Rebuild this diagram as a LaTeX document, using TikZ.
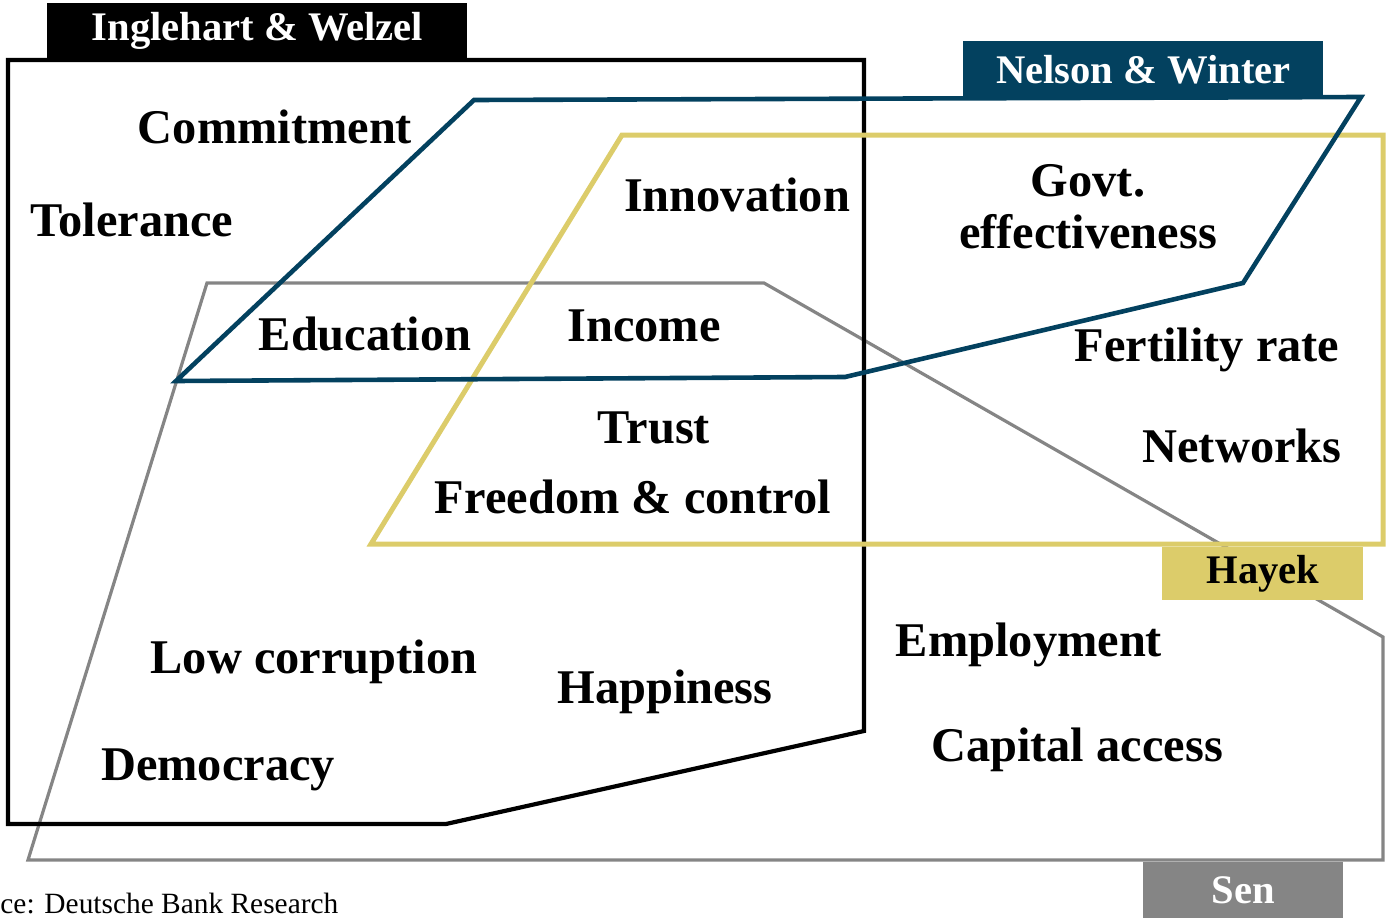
\documentclass[tikz,border=0pt]{standalone}
\usepackage{fontspec}
\setmainfont{Liberation Serif}
\definecolor{dbblue}{HTML}{03415F}
\definecolor{dbyellow}{HTML}{DCCC6A}
\definecolor{dbgray}{HTML}{858585}

\begin{document}
\begin{tikzpicture}[x=0.5pt,y=-0.5pt,
    lbl/.style={font=\fontsize{24.2}{26}\selectfont\bfseries, inner sep=0pt, anchor=base},
    tag/.style={font=\fontsize{20.3}{24}\selectfont\bfseries, inner sep=0pt, anchor=north west}]
\useasboundingbox (0,0) rectangle (1388,921);
    % the four sets
    \draw[dbgray, line width=1.6pt] (207,283) -- (764,283) -- (1383,637) -- (1383,860) -- (28,860) -- cycle;
    \draw[black, line width=2.1pt] (8,60) -- (864,60) -- (864,731) -- (446,824) -- (8,824) -- cycle;
    \draw[dbyellow, line width=2.5pt] (371,544) -- (622,135) -- (1383,135) -- (1383,544) -- cycle;
    \draw[dbblue, line width=2.3pt] (176,381) -- (474,100) -- (1361,97) -- (1243,283) -- (845,377) -- cycle;
    % tags
    \node[tag, fill=black, text=white, minimum width=210pt, minimum height=27.5pt] (iwtag) at (47,3) {Inglehart \& Welzel};
    \node[tag, fill=dbblue, text=white, minimum width=180pt, minimum height=28pt] (nwtag) at (963,41) {Nelson \& Winter};
    \node[tag, fill=dbyellow, text=black, minimum width=100.5pt, minimum height=26.5pt] (hytag) at (1162,547) {Hayek};
    \node[tag, fill=dbgray, text=white, minimum width=100pt, minimum height=28pt] (sentag) at (1143,862) {Sen};
    % labels
    \node[lbl] (commit) at (275,143) {Commitment};
    \node[lbl] (toler) at (132,236) {Tolerance};
    \node[lbl] (innov) at (737,211) {Innovation};
    \node[lbl, anchor=center, align=center] (govt) at (1088,207) {Govt.\\effectiveness};
    \node[lbl] (educ) at (365,350) {Education};
    \node[lbl] (income) at (644,341) {Income};
    \node[lbl] (fert) at (1207,361) {Fertility rate};
    \node[lbl] (trust) at (654,443) {Trust};
    \node[lbl] (netw) at (1242,462) {Networks};
    \node[lbl] (freedom) at (633,513) {Freedom \& control};
    \node[lbl] (employ) at (1029,656) {Employment};
    \node[lbl] (lowcorr) at (314,673) {Low corruption};
    \node[lbl] (happy) at (665,703) {Happiness};
    \node[lbl] (capital) at (1077,761) {Capital access};
    \node[lbl] (democ) at (218,780) {Democracy};
    \node[font=\fontsize{14.7}{17}\selectfont, inner sep=0pt, anchor=base west] (source) at (0,913) {ce: Deutsche Bank Research};
\end{tikzpicture}
\end{document}
